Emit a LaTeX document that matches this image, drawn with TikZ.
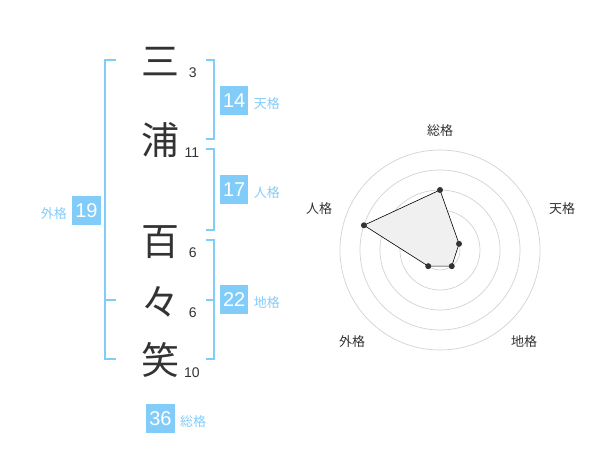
\documentclass[tikz,border=0pt]{standalone}
\usepackage{fontspec}
\setmainfont{Liberation Sans}
\newfontfamily\jpfont{Noto Sans CJK JP}
\usetikzlibrary{positioning}
\definecolor{kakublue}{RGB}{130,204,250}
\definecolor{ink}{RGB}{51,51,51}
\definecolor{ring}{RGB}{210,210,210}
\newcommand{\kaku}[5]{%
 \node[numbox] (#1) at (#2) {#3};%
 \node[kakutext, #5=5pt of #1] (#1t) {#4};%
}
\newcommand{\moji}[5]{%
 \node[mojichar] (#1) at (#2) {#3};%
 \node[strokes] (#1n) at (#4) {#5};%
}
\begin{document}
\begin{tikzpicture}[x=1pt,y=-1pt,
  numbox/.style={fill=kakublue,text=white,inner sep=0pt,minimum width=28.5pt,minimum height=29pt,font=\fontsize{20}{20}\selectfont},
  kakutext/.style={text=kakublue,inner sep=0pt,yshift=-3pt,font=\jpfont\fontsize{13}{13}\selectfont},
  mojichar/.style={text=ink,inner sep=0pt,font=\jpfont\fontsize{38}{38}\selectfont},
  strokes/.style={text=ink,inner sep=0pt,font=\fontsize{14}{14}\selectfont},
  bracket/.style={draw=kakublue,line width=2pt},
  radarlabel/.style={text=ink,inner sep=0pt,font=\jpfont\fontsize{13}{13}\selectfont},
  dot/.style={circle,fill=ink,inner sep=0pt,minimum size=6pt}]
 \useasboundingbox (0,0) rectangle (600,470);
 \moji{c1}{160,61.7}{三}{192.7,72.7}{3}
 \moji{c2}{160,140}{浦}{192,153}{11}
 \moji{c3}{160,241.7}{百}{192.7,252.7}{6}
 \moji{c4}{160,301.7}{々}{192.7,313}{6}
 \moji{c5}{160,360}{笑}{192,372.7}{10}
 \draw[bracket] (116,60) -- (105,60) -- (105,359.3) -- (116,359.3);
 \draw[bracket] (105,300) -- (116,300);
 \draw[bracket] (205.7,60) -- (214.3,60) -- (214.3,139.3) -- (205.7,139.3);
 \draw[bracket] (205.7,149.3) -- (214.3,149.3) -- (214.3,230) -- (205.7,230);
 \draw[bracket] (205.7,240) -- (214.3,240) -- (214.3,359.3) -- (205.7,359.3);
 \draw[bracket] (214.3,300) -- (205.7,300);
 \kaku{gai}{86.5,210.3}{19}{外格}{left}
 \kaku{ten}{234.2,100.5}{14}{天格}{right}
 \kaku{jin}{234.2,190}{17}{人格}{right}
 \kaku{chi}{234.2,299.7}{22}{地格}{right}
 \kaku{sou}{160.5,418.8}{36}{総格}{right}
 \coordinate (c) at (440,250);
 \foreach \r in {20,40,60,80,100}
  \draw[ring,line width=0.7pt] (c) circle (\r);
 \fill[ring] (c) circle (3);
 \path (c) ++(-90:60) coordinate (p1)
       (c) ++(-18:20) coordinate (p2)
       (c) ++(54:20) coordinate (p3)
       (c) ++(126:20) coordinate (p4)
       (c) ++(198:80) coordinate (p5);
 \draw[black,fill=black!6,line width=0.6pt] (p1) -- (p2) -- (p3) -- (p4) -- (p5) -- cycle;
 \foreach \p in {p1,p2,p3,p4,p5}
  \node[dot] (d\p) at (\p) {};
 \node[radarlabel] (lsou) at (440,130.7) {総格};
 \node[radarlabel] (lten) at (562,208.7) {天格};
 \node[radarlabel] (lchi) at (524,342) {地格};
 \node[radarlabel] (lgai) at (352,342) {外格};
 \node[radarlabel] (ljin) at (319,208.7) {人格};
\end{tikzpicture}
\end{document}
